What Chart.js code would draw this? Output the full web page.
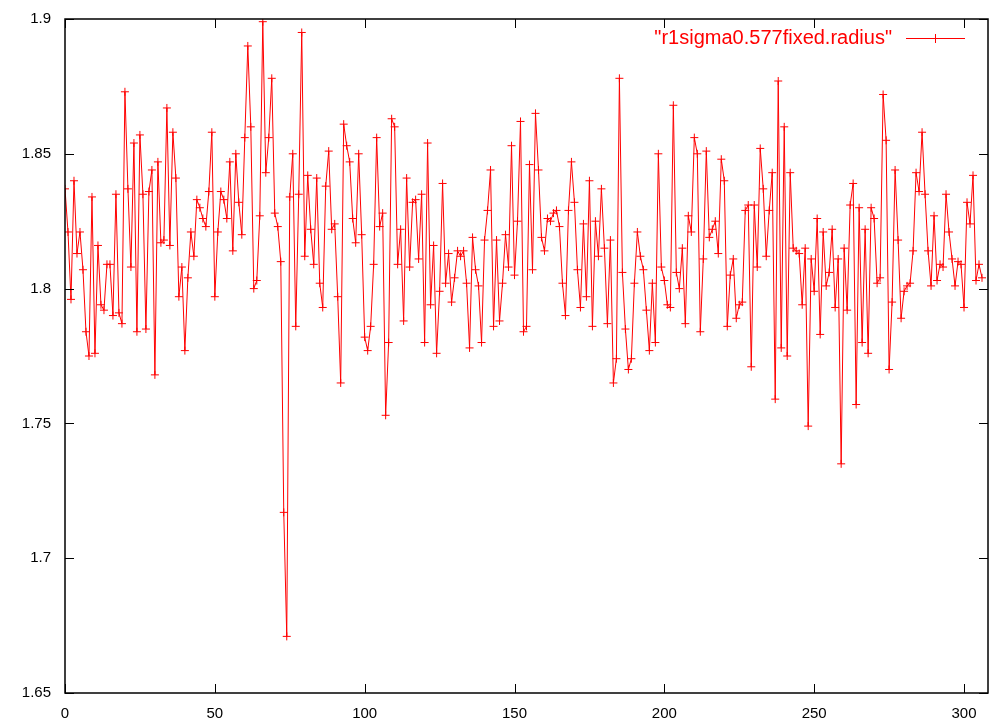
<!DOCTYPE html>
<html>
<head>
<meta charset="utf-8">
<script src="https://cdn.jsdelivr.net/npm/chart.js@4/dist/chart.umd.min.js"></script>
<style>
html, body { margin: 0; padding: 0; background: #fff; }
</style>
</head>
<body>
<canvas id="myChart" width="993" height="727"></canvas>
<script>
const seriesLabel = '"r1sigma0.577fixed.radius"';
const xTicks = [0, 50, 100, 150, 200, 250, 300];
const yTicks = [1.65, 1.7, 1.75, 1.8, 1.85, 1.9];
const radius = [
  1.837, 1.821, 1.796, 1.840, 1.813, 1.821, 1.807, 1.784, 1.775, 1.834,
  1.776, 1.816, 1.794, 1.792, 1.809, 1.809, 1.790, 1.835, 1.791, 1.787,
  1.873, 1.837, 1.808, 1.854, 1.784, 1.857, 1.835, 1.785, 1.836, 1.844,
  1.768, 1.847, 1.817, 1.818, 1.867, 1.816, 1.858, 1.841, 1.797, 1.808,
  1.777, 1.804, 1.821, 1.812, 1.833, 1.830, 1.826, 1.823, 1.836, 1.858,
  1.797, 1.821, 1.836, 1.833, 1.826, 1.847, 1.814, 1.850, 1.832, 1.820,
  1.856, 1.890, 1.860, 1.800, 1.803, 1.827, 1.899, 1.843, 1.856, 1.878,
  1.828, 1.823, 1.810, 1.717, 1.671, 1.834, 1.850, 1.786, 1.835, 1.895,
  1.812, 1.842, 1.822, 1.809, 1.841, 1.802, 1.793, 1.838, 1.851, 1.822,
  1.824, 1.797, 1.765, 1.861, 1.853, 1.847, 1.826, 1.817, 1.850, 1.820,
  1.782, 1.777, 1.786, 1.809, 1.856, 1.823, 1.828, 1.753, 1.780, 1.863,
  1.860, 1.809, 1.822, 1.788, 1.841, 1.808, 1.832, 1.833, 1.811, 1.835,
  1.780, 1.854, 1.794, 1.816, 1.776, 1.799, 1.839, 1.802, 1.813, 1.795,
  1.804, 1.814, 1.812, 1.814, 1.802, 1.778, 1.819, 1.807, 1.801, 1.780,
  1.818, 1.829, 1.844, 1.786, 1.818, 1.788, 1.802, 1.820, 1.808, 1.853,
  1.805, 1.825, 1.862, 1.784, 1.786, 1.846, 1.807, 1.865, 1.844, 1.819,
  1.814, 1.826, 1.825, 1.828, 1.829, 1.823, 1.802, 1.790, 1.829, 1.847,
  1.832, 1.807, 1.793, 1.824, 1.797, 1.840, 1.786, 1.825, 1.812, 1.837,
  1.815, 1.787, 1.818, 1.765, 1.774, 1.878, 1.806, 1.785, 1.770, 1.774,
  1.802, 1.821, 1.812, 1.807, 1.792, 1.777, 1.802, 1.780, 1.850, 1.808,
  1.803, 1.794, 1.793, 1.868, 1.806, 1.800, 1.815, 1.787, 1.827, 1.821,
  1.856, 1.850, 1.784, 1.811, 1.851, 1.819, 1.822, 1.825, 1.813, 1.848,
  1.840, 1.786, 1.805, 1.811, 1.789, 1.794, 1.795, 1.829, 1.831, 1.771,
  1.831, 1.808, 1.852, 1.837, 1.812, 1.829, 1.843, 1.759, 1.877, 1.778,
  1.860, 1.775, 1.843, 1.815, 1.814, 1.813, 1.794, 1.815, 1.749, 1.811,
  1.799, 1.826, 1.783, 1.821, 1.801, 1.806, 1.822, 1.793, 1.811, 1.735,
  1.815, 1.792, 1.831, 1.839, 1.757, 1.830, 1.780, 1.822, 1.776, 1.830,
  1.826, 1.802, 1.804, 1.872, 1.855, 1.770, 1.795, 1.844, 1.818, 1.789,
  1.799, 1.801, 1.802, 1.814, 1.843, 1.836, 1.858, 1.835, 1.814, 1.801,
  1.827, 1.803, 1.809, 1.808, 1.835, 1.821, 1.811, 1.801, 1.810, 1.809,
  1.793, 1.832, 1.824, 1.842, 1.803, 1.809, 1.804
];

const FONT = 'Liberation Sans, Arial, Helvetica, sans-serif';

// gnuplot style: border and inward ticks on all four sides, plus key at top right
const gnuplotFrame = {
  id: 'gnuplotFrame',
  afterDraw(chart) {
    const c = chart.ctx;
    const a = chart.chartArea;
    const sx = chart.scales.x;
    const sy = chart.scales.y;
    const tl = 9;
    c.save();
    c.strokeStyle = '#000';
    c.lineWidth = 1;
    c.beginPath();
    xTicks.forEach((v) => {
      const px = Math.round(sx.getPixelForValue(v)) + 0.5;
      c.moveTo(px, a.bottom); c.lineTo(px, a.bottom - tl);
      c.moveTo(px, a.top); c.lineTo(px, a.top + tl);
    });
    yTicks.forEach((v) => {
      const py = Math.round(sy.getPixelForValue(v)) + 0.5;
      c.moveTo(a.left, py); c.lineTo(a.left + tl, py);
      c.moveTo(a.right, py); c.lineTo(a.right - tl, py);
    });
    c.stroke();
    c.lineWidth = 1.5;
    c.strokeRect(a.left, a.top, a.right - a.left, a.bottom - a.top);

    // key
    const ky = 38;
    c.fillStyle = '#ff0000';
    c.strokeStyle = '#ff0000';
    c.font = '20px ' + FONT;
    c.textAlign = 'right';
    c.textBaseline = 'middle';
    c.fillText(seriesLabel, 892, ky);
    c.lineWidth = 1;
    c.beginPath();
    c.moveTo(906, ky + 0.5); c.lineTo(965, ky + 0.5);
    c.moveTo(935.5, ky - 4); c.lineTo(935.5, ky + 5);
    c.moveTo(931, ky + 0.5); c.lineTo(940, ky + 0.5);
    c.stroke();
    c.restore();
  },
};

const ctx = document.getElementById('myChart').getContext('2d');
const myChart = new Chart(ctx, {
  type: 'line',
  data: {
    datasets: [
      {
        label: seriesLabel,
        data: radius.map((v, i) => ({ x: i, y: v })),
        borderColor: '#ff0000',
        backgroundColor: '#ff0000',
        borderWidth: 1,
        pointStyle: 'cross',
        pointRadius: 4,
        pointBorderWidth: 1,
        pointBorderColor: '#ff0000',
        tension: 0,
        fill: false,
      },
    ],
  },
  options: {
    responsive: false,
    animation: false,
    layout: { padding: { top: 19, right: 4, left: 0, bottom: 0 } },
    plugins: {
      legend: { display: false },
      tooltip: { enabled: false },
    },
    scales: {
      x: {
        type: 'linear',
        min: 0,
        max: 308,
        afterBuildTicks: (s) => { s.ticks = xTicks.map((v) => ({ value: v })); },
        afterFit: (s) => { s.height = 34; s.paddingLeft = 0; s.paddingRight = 0; },
        grid: { display: false, drawTicks: false },
        border: { display: false },
        ticks: {
          padding: 12,
          color: '#000',
          font: { family: FONT, size: 15 },
          maxRotation: 0,
          callback: (v) => String(v),
        },
      },
      y: {
        type: 'linear',
        min: 1.65,
        max: 1.9,
        afterBuildTicks: (s) => { s.ticks = yTicks.map((v) => ({ value: v })); },
        afterFit: (s) => { s.width = 65; s.paddingTop = 0; s.paddingBottom = 0; },
        grid: { display: false, drawTicks: false },
        border: { display: false },
        ticks: {
          padding: 14,
          color: '#000',
          font: { family: FONT, size: 15 },
          callback: (v) => String(v),
        },
      },
    },
  },
  plugins: [gnuplotFrame],
});
</script>
</body>
</html>
